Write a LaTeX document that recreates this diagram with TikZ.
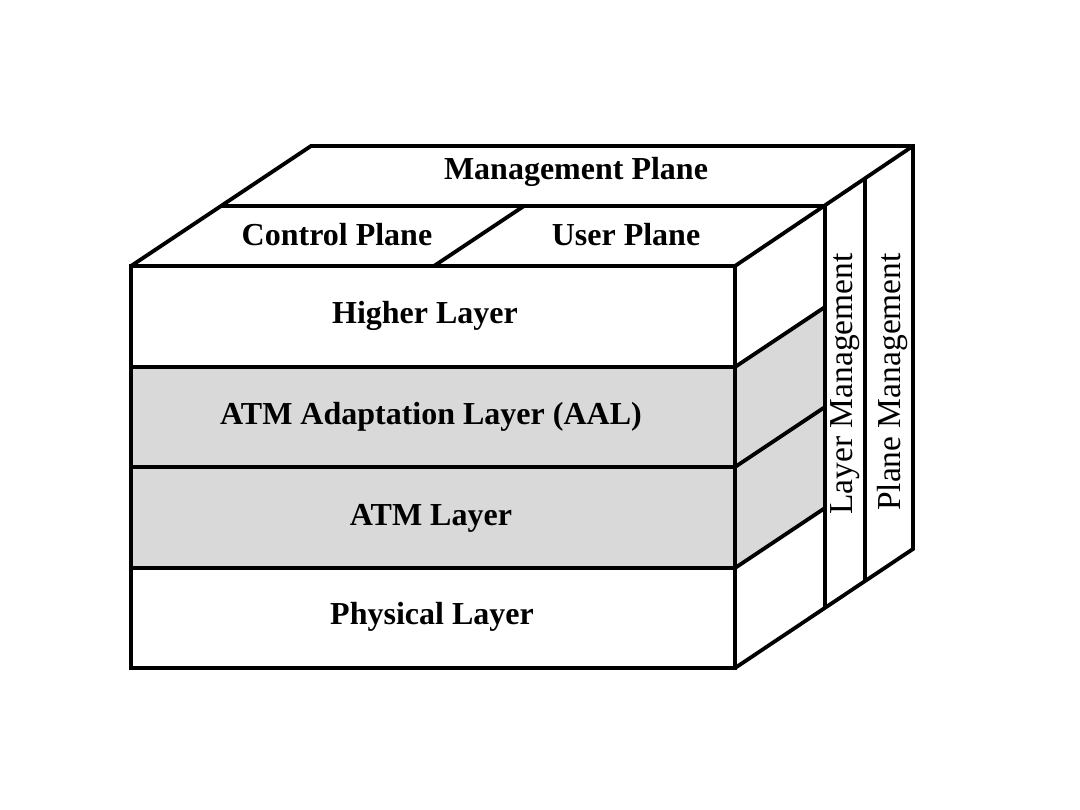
\documentclass[tikz,border=0pt]{standalone}
\usepackage{fontspec}
\setmainfont{Liberation Serif}
\begin{document}
\begin{tikzpicture}[x=1pt,y=-1pt,
  edge/.style={draw=black,line width=3.8pt},
  band/.style={fill=bandgray},
  lbl/.style={font=\fontsize{32}{34}\selectfont\bfseries,inner sep=0pt},
  vlbl/.style={font=\fontsize{33.5}{35}\selectfont,inner sep=0pt,rotate=90}]
\definecolor{bandgray}{HTML}{D9D9D9}
\useasboundingbox (0,0) rectangle (1080,810);
% gray bands
\fill[band] (131,367) rectangle (735,568);
\fill[band] (735,367) -- (825,307) -- (825,508) -- (735,568) -- cycle;
% front face
\draw[edge] (131,266) rectangle (735,668);
\draw[edge] (131,367) -- (735,367);
\draw[edge] (131,467) -- (735,467);
\draw[edge] (131,568) -- (735,568);
% top face
\draw[edge] (131,266) -- (311,146) -- (913,146) -- (913,549) -- (735,668);
\draw[edge] (735,266) -- (913,146);
\draw[edge] (221,206) -- (825,206) -- (825,608);
\draw[edge] (434,266) -- (524,206);
\draw[edge] (865,179) -- (865,581);
% side diagonals
\draw[edge] (735,367) -- (825,307);
\draw[edge] (735,467) -- (825,407);
\draw[edge] (735,568) -- (825,508);
% labels
\node[lbl] (mp) at (576,172) {Management Plane};
\node[lbl] (cp) at (337,235) {Control Plane};
\node[lbl] (up) at (626,235) {User Plane};
\node[lbl] (hl) at (425,316) {Higher Layer};
\node[lbl] (aal) at (431,417) {ATM Adaptation Layer (AAL)};
\node[lbl] (atm) at (431,518) {ATM Layer};
\node[lbl] (phy) at (432,617) {Physical Layer};
\node[vlbl] (lm) at (845,384) {Layer Management};
\node[vlbl] (pm) at (892,382) {Plane Management};
\end{tikzpicture}
\end{document}
